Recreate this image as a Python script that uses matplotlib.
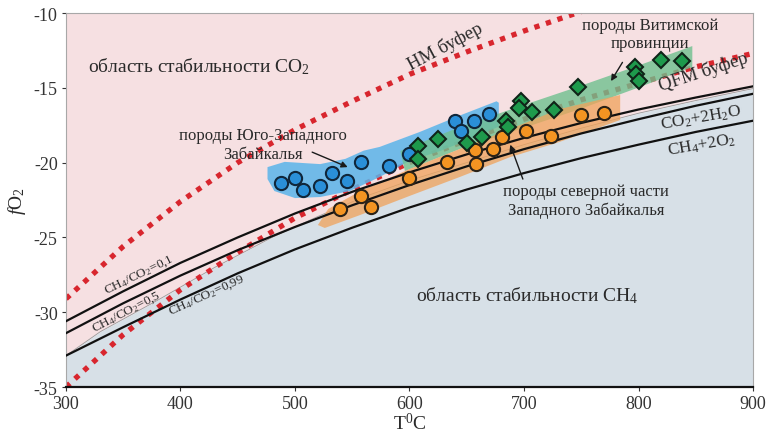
import matplotlib
matplotlib.use("Agg")
import matplotlib.pyplot as plt
import numpy as np

plt.rcParams['font.family'] = ['Liberation Serif', 'DejaVu Serif']
plt.rcParams['mathtext.fontset'] = 'custom'
plt.rcParams['mathtext.rm'] = 'Liberation Serif'
plt.rcParams['mathtext.it'] = 'Liberation Serif:italic'
plt.rcParams['axes.unicode_minus'] = False

# temperature grid for the curves, deg C
T = [300, 350, 400, 450, 500, 550, 600, 650, 700, 750, 800, 850, 900]
# CH4/CO2 isolines (log fO2)
ch4_01 = [-30.6, -28.6, -26.7, -25.0, -23.4, -21.95, -20.65, -19.45, -18.35, -17.35, -16.45, -15.65, -14.9]
ch4_05 = [-31.4, -29.4, -27.55, -25.85, -24.3, -22.85, -21.5, -20.25, -19.1, -18.05, -17.1, -16.2, -15.4]
ch4_099 = [-32.9, -31.0, -29.15, -27.4, -25.8, -24.35, -23.0, -21.8, -20.7, -19.7, -18.8, -17.95, -17.2]
# buffers
qfm = [-35.0, -31.5, -28.5, -26.0, -23.7, -21.8, -20.0, -18.5, -17.1, -15.8, -14.7, -13.6, -12.7]
T_hm = [300, 350, 400, 450, 500, 550, 600, 650, 700, 750]
hm = [-29.1, -25.6, -22.6, -20.0, -17.8, -15.9, -14.1, -12.6, -11.2, -9.9]
# CO2 / CH4 field boundary
T_bnd = [300, 330, 380, 430, 480, 520, 560, 600, 650, 700, 750, 800, 850, 900]
bnd = [-32.9, -31.3, -29.2, -27.0, -25.0, -23.6, -22.3, -21.2, -20.0, -18.8, -17.7, -16.7, -15.85, -15.05]

# samples: SW Transbaikalia (blue), northern W Transbaikalia (orange), Vitim (green)
sw_T = [488, 500, 507, 522, 532, 545, 558, 582, 600, 640, 645, 656, 669]
sw_f = [-21.36, -21.05, -21.83, -21.56, -20.70, -21.21, -19.98, -20.21, -19.43, -17.20, -17.89, -17.22, -16.72]
nw_T = [539, 558, 566, 600, 633, 657, 658, 673, 681, 702, 724, 750, 770]
nw_f = [-23.12, -22.21, -22.95, -21.06, -19.99, -19.16, -20.09, -19.09, -18.32, -17.89, -18.20, -16.85, -16.68]
vit_T = [607, 607, 625, 650, 663, 684, 686, 697, 696, 707, 726, 747, 797, 798, 800, 820, 838]
vit_f = [-18.89, -19.73, -18.40, -18.66, -18.32, -17.19, -17.64, -15.88, -16.38, -16.64, -16.47, -14.95,
         -13.64, -14.08, -14.55, -13.14, -13.21]

# outlines of the sample fields
sw_field_T = [476, 491, 522, 544, 560, 574, 609, 644, 676, 678, 678, 653, 627, 600, 574, 548, 522, 500, 482, 476]
sw_field_f = [-20.3, -19.95, -20.1, -19.75, -19.2, -18.95, -17.95, -16.85, -15.9, -16.0, -17.6, -18.42, -19.22,
              -19.89, -20.96, -21.9, -22.3, -22.37, -21.9, -21.1]
nw_field_T = [520, 529, 557, 600, 644, 688, 731, 784, 784, 731, 688, 644, 600, 557, 526]
nw_field_f = [-24.17, -23.1, -21.9, -20.43, -19.09, -17.75, -16.42, -15.48, -17.15, -18.62, -19.63, -20.96,
              -22.23, -23.5, -24.37]
vit_field_T = [592, 644, 697, 749, 801, 847, 847, 801, 749, 697, 644, 596]
vit_field_f = [-19.22, -17.62, -16.22, -14.88, -13.48, -12.21, -13.61, -14.95, -16.42, -17.75, -19.09, -20.56]

fig = plt.figure(figsize=(7.69, 4.35), dpi=100)
ax = fig.add_axes([0.0858, 0.108, 0.8934, 0.8598])
ax.set_xlim(300, 900)
ax.set_ylim(-35, -10)

# stability fields
ax.fill_between(T_bnd, bnd, -10, color='#f6e0e2', lw=0, zorder=0)
ax.fill_between(T_bnd, -35, bnd, color='#d7e0e7', lw=0, zorder=0)
ax.plot(T_bnd, bnd, color='#9a9a9a', lw=0.6, zorder=0.5)

# buffers
dots = (0, (1, 1.3))
ax.plot(T, qfm, color='#d8262e', lw=3.8, ls=dots, dash_capstyle='butt', zorder=1)
ax.plot(T_hm, hm, color='#d8262e', lw=3.8, ls=dots, dash_capstyle='butt', zorder=1)

# sample fields
ax.fill(sw_field_T, sw_field_f, color='#5ab4ea', alpha=0.85, lw=0, zorder=2)
ax.fill(vit_field_T, vit_field_f, color='#6fc08f', alpha=0.8, lw=0, zorder=2)
ax.fill(nw_field_T, nw_field_f, color='#f0a25a', alpha=0.75, lw=0, zorder=2)

# CH4/CO2 lines
for vals in (ch4_01, ch4_05, ch4_099):
    ax.plot(T, vals, color='#111111', lw=1.6, zorder=3)

ax.plot(sw_T, sw_f, 'o', ms=9.5, mfc='#2a8fd8', mec='#10263a', mew=1.5, zorder=4)
ax.plot(nw_T, nw_f, 'o', ms=9.5, mfc='#f39422', mec='#2a2218', mew=1.5, zorder=4)
ax.plot(vit_T, vit_f, 'D', ms=7.8, mfc='#1e9a4c', mec='#0f2418', mew=1.5, zorder=4)

txt = dict(color='#2a2a2a', zorder=5)
rot = dict(ha='center', va='center', rotation_mode='anchor')
ax.text(319, -13.5, 'область стабильности CO$_2$', fontsize=14, ha='left', va='center', **txt)
ax.text(606, -28.8, 'область стабильности CH$_4$', fontsize=14, ha='left', va='center', **txt)
ax.text(631, -12.2, 'HM буфер', fontsize=13.5, rotation=28, **rot, **txt)
ax.text(857, -13.9, 'QFM буфер', fontsize=13.5, rotation=18, **rot, **txt)
ax.text(855, -16.95, 'CO$_2$+2H$_2$O', fontsize=12.5, rotation=10, **rot, **txt)
ax.text(855, -18.8, 'CH$_4$+2O$_2$', fontsize=12.5, rotation=10, **rot, **txt)
ax.text(364, -27.45, 'CH$_4$/CO$_2$=0,1', fontsize=9.5, rotation=26, **rot, **txt)
ax.text(353, -29.95, 'CH$_4$/CO$_2$=0,5', fontsize=9.5, rotation=27.5, **rot, **txt)
ax.text(423, -28.85, 'CH$_4$/CO$_2$=0,99', fontsize=9.5, rotation=24.5, **rot, **txt)

ax.text(472, -18.8, 'породы Юго-Западного\nЗабайкалья', fontsize=12, ha='center', va='center',
        linespacing=1.2, **txt)
ax.text(754, -22.5, 'породы северной части\nЗападного Забайкалья', fontsize=12, ha='center', va='center',
        linespacing=1.2, **txt)
ax.text(810, -11.4, 'породы Витимской\nпровинции', fontsize=12, ha='center', va='center',
        linespacing=1.2, **txt)

arrow = dict(arrowstyle='-|>', color='#1a1a1a', lw=1.0, mutation_scale=9, shrinkA=0, shrinkB=0)
ax.annotate('', xy=(546, -20.3), xytext=(515, -19.3), arrowprops=arrow, zorder=5)
ax.annotate('', xy=(688, -18.8), xytext=(699, -21.1), arrowprops=arrow, zorder=5)
ax.annotate('', xy=(776, -14.55), xytext=(786, -13.3), arrowprops=arrow, zorder=5)

ax.set_xticks([300, 400, 500, 600, 700, 800, 900])
ax.set_yticks([-35, -30, -25, -20, -15, -10])
ax.tick_params(labelsize=13, length=3, width=0.8, colors='#333333', pad=3)
ax.set_xlabel('T$^0$C', fontsize=14, color='#2a2a2a', labelpad=0)
ax.set_ylabel('$\\mathit{f}$O$_2$', fontsize=14, color='#2a2a2a', labelpad=4)

for s in ('top', 'right', 'left'):
    ax.spines[s].set_color('#a8a8a8')
    ax.spines[s].set_linewidth(0.8)
ax.spines['bottom'].set_color('#111111')
ax.spines['bottom'].set_linewidth(1.6)

fig.savefig('out.png', dpi=100)
